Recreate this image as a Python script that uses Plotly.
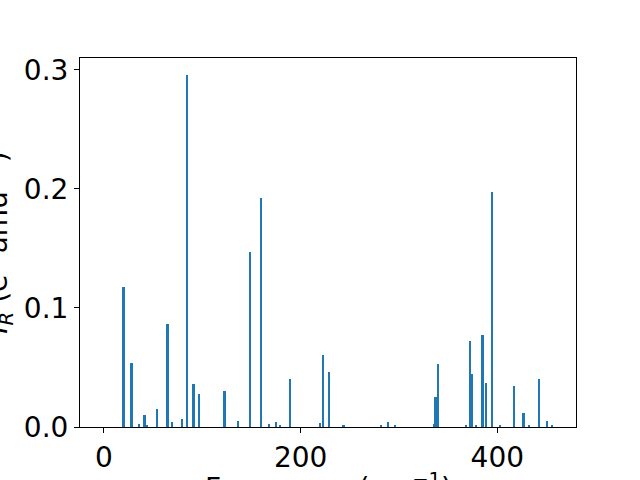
import plotly.graph_objects as go

# Frequencies (cm^-1) and intensities
frequency = [20.2, 28.1, 35.6, 41.4, 43.7, 53.9, 64.8, 69.2, 79.4, 84.4, 91.5, 96.6,
             123.0, 136.3, 148.5, 159.7, 167.8, 174.9, 179.0, 189.2, 219.7, 222.7, 228.8,
             244.0, 282.0, 288.8, 296.0, 336.3, 337.6, 339.7, 368.2, 372.2, 374.3, 378.3,
             385.4, 388.5, 394.6, 402.7, 417.0, 426.8, 432.2, 442.4, 450.5, 455.6]
intensity = [0.118, 0.054, 0.0028, 0.0103, 0.001, 0.0154, 0.0868, 0.0044, 0.007, 0.2958, 0.0364, 0.028,
             0.0305, 0.0053, 0.147, 0.1925, 0.0028, 0.0044, 0.001, 0.0406, 0.0036, 0.0607, 0.0465,
             0.001, 0.001, 0.0044, 0.001, 0.0028, 0.0255, 0.053, 0.001, 0.0725, 0.0447, 0.0019,
             0.0776, 0.037, 0.1976, 0.001, 0.0345, 0.012, 0.001, 0.0406, 0.0053, 0.001]

x_ticks = [0, 200, 400]
y_ticks = [0.0, 0.1, 0.2, 0.3]
y_tick_text = ["0.0", "0.1", "0.2", "0.3"]
x_title = "Frequency (cm<sup>−1</sup>)"
y_title = "<i>I</i><sub><i>R</i></sub> (e<sup>2</sup> amu<sup>−1</sup>)"

fig = go.Figure(go.Bar(x=frequency, y=intensity, width=2.0,
                       marker=dict(color="#1f77b4", line=dict(width=0))))

font = dict(family="DejaVu Sans", size=28, color="black")
fig.update_layout(
    width=640, height=480,
    margin=dict(l=80, r=64, t=58, b=53),
    paper_bgcolor="white", plot_bgcolor="white",
    showlegend=False, font=font, bargap=0,
)
fig.update_xaxes(
    range=[-24.4, 480], tickvals=x_ticks, ticks="outside", ticklen=5, tickwidth=1,
    tickcolor="black", showline=True, linecolor="black", linewidth=1, mirror=True,
    showgrid=False, zeroline=False, automargin=False, tickfont=font,
)
fig.update_yaxes(
    range=[0, 0.31], tickvals=y_ticks, ticktext=y_tick_text, ticks="outside", ticklen=5,
    tickwidth=1, tickcolor="black", showline=True, linecolor="black", linewidth=1,
    mirror=True, showgrid=False, zeroline=False, automargin=False, tickfont=font,
)
fig.add_annotation(text=x_title, xref="paper", yref="paper", x=0.5, y=-0.1615,
                   xanchor="center", yanchor="middle", showarrow=False, font=font)
fig.add_annotation(text=y_title, xref="paper", yref="paper", x=-0.165, y=0.5,
                   xanchor="center", yanchor="middle", textangle=-90, showarrow=False, font=font)

fig.write_html("out.html", config={"displayModeBar": False},
               post_script="document.body.style.margin='0px';")
